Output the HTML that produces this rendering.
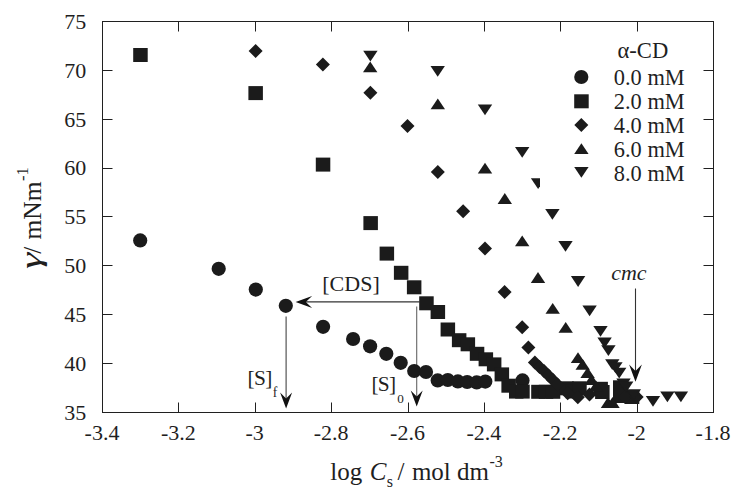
<!DOCTYPE html>
<html lang="en"><head><meta charset="utf-8"><title>Surface tension vs log Cs</title>
<style>html,body{margin:0;padding:0;background:#fff}svg{display:block}text{font-family:"Liberation Serif","Times New Roman",Times,serif;fill:#1f1f1f}</style></head><body>
<svg width="747" height="491" viewBox="0 0 747 491">
<rect width="747" height="491" fill="#fff"/>
<defs><clipPath id="lg"><rect x="0" y="0" width="540" height="491"/></clipPath></defs>
<g>
<line x1="301.6" y1="301.9" x2="419.5" y2="301.9" stroke="#333" stroke-width="1.25"/><polygon fill="#111" points="295.6,301.9 312.1,295.9 305.8,301.9 312.1,307.9"/>
<line x1="286.1" y1="316.5" x2="286.1" y2="402.6" stroke="#444" stroke-width="1.1"/><polygon fill="#111" points="286.1,408.6 280.1,392.4 286.1,398.6 292.1,392.4"/>
<line x1="416.7" y1="306.4" x2="416.7" y2="400.6" stroke="#666" stroke-width="1.1"/><polygon fill="#111" points="416.7,406.6 410.7,390.4 416.7,396.6 422.7,390.4"/>
<line x1="635.5" y1="288.5" x2="635.5" y2="375.8" stroke="#333" stroke-width="1.1"/><polygon fill="#111" points="635.5,381.8 629.1,364.5 635.5,371.1 641.9,364.5"/>
</g>
<g fill="#1b1b1b">
<circle cx="140.2" cy="240.4" r="7.1"/><circle cx="218.7" cy="268.8" r="7.1"/><circle cx="255.8" cy="289.6" r="7.1"/><circle cx="285.8" cy="305.8" r="7.1"/><circle cx="323.1" cy="326.8" r="7.1"/><circle cx="353.1" cy="339.0" r="7.1"/><circle cx="370.1" cy="346.3" r="7.1"/><circle cx="386.3" cy="353.8" r="7.1"/><circle cx="400.7" cy="362.8" r="7.1"/><circle cx="414.2" cy="371.0" r="7.1"/><circle cx="426.0" cy="372.0" r="7.1"/><circle cx="437.7" cy="380.4" r="7.1"/><circle cx="447.8" cy="380.0" r="7.1"/><circle cx="457.9" cy="381.4" r="7.1"/><circle cx="467.2" cy="382.0" r="7.1"/><circle cx="476.7" cy="382.4" r="7.1"/><circle cx="485.3" cy="381.6" r="7.1"/><circle cx="522.5" cy="380.4" r="7.1"/>
<rect x="133.2" y="48.0" width="14.5" height="14.0"/><rect x="248.4" y="86.1" width="14.5" height="14.0"/><rect x="315.8" y="157.6" width="14.5" height="14.0"/><rect x="363.4" y="216.1" width="14.5" height="14.0"/><rect x="379.6" y="246.6" width="14.5" height="14.0"/><rect x="393.9" y="265.8" width="14.5" height="14.0"/><rect x="406.9" y="280.3" width="14.5" height="14.0"/><rect x="419.2" y="296.3" width="14.5" height="14.0"/><rect x="430.6" y="305.0" width="14.5" height="14.0"/><rect x="440.6" y="322.5" width="14.5" height="14.0"/><rect x="451.9" y="333.2" width="14.5" height="14.0"/><rect x="460.6" y="337.3" width="14.5" height="14.0"/><rect x="469.8" y="346.8" width="14.5" height="14.0"/><rect x="478.6" y="352.3" width="14.5" height="14.0"/><rect x="486.9" y="357.4" width="14.5" height="14.0"/><rect x="494.6" y="367.4" width="14.5" height="14.0"/><rect x="501.4" y="378.7" width="14.5" height="14.0"/><rect x="509.0" y="384.6" width="14.5" height="14.0"/><rect x="515.2" y="384.6" width="14.5" height="14.0"/><rect x="531.2" y="384.8" width="14.5" height="14.0"/><rect x="538.8" y="384.8" width="14.5" height="14.0"/><rect x="545.8" y="384.8" width="14.5" height="14.0"/><rect x="559.2" y="381.3" width="14.5" height="14.0"/><rect x="565.8" y="384.5" width="14.5" height="14.0"/><rect x="572.2" y="381.3" width="14.5" height="14.0"/><rect x="593.4" y="381.8" width="14.5" height="14.0"/><rect x="595.1" y="385.0" width="14.5" height="14.0"/><rect x="613.0" y="380.3" width="14.5" height="14.0"/><rect x="613.0" y="389.0" width="14.5" height="14.0"/><rect x="624.8" y="390.0" width="14.5" height="14.0"/>
<polygon points="248.6,51.1 255.6,44.1 262.6,51.1 255.6,58.1"/><polygon points="315.9,64.5 322.9,57.5 329.9,64.5 322.9,71.5"/><polygon points="363.4,92.8 370.4,85.8 377.4,92.8 370.4,99.8"/><polygon points="400.5,125.9 407.5,118.9 414.5,125.9 407.5,132.9"/><polygon points="430.8,172.1 437.8,165.1 444.8,172.1 437.8,179.1"/><polygon points="456.1,211.3 463.1,204.3 470.1,211.3 463.1,218.3"/><polygon points="478.0,248.4 485.0,241.4 492.0,248.4 485.0,255.4"/><polygon points="497.6,292.1 504.6,285.1 511.6,292.1 504.6,299.1"/><polygon points="515.2,327.2 522.2,320.2 529.2,327.2 522.2,334.2"/><polygon points="521.4,347.6 528.4,340.6 535.4,347.6 528.4,354.6"/><polygon points="527.9,362.5 534.9,355.5 541.9,362.5 534.9,369.5"/><polygon points="532.5,367.0 539.5,360.0 546.5,367.0 539.5,374.0"/><polygon points="537.0,371.0 544.0,364.0 551.0,371.0 544.0,378.0"/><polygon points="541.5,375.5 548.5,368.5 555.5,375.5 548.5,382.5"/><polygon points="546.0,380.0 553.0,373.0 560.0,380.0 553.0,387.0"/><polygon points="550.5,384.5 557.5,377.5 564.5,384.5 557.5,391.5"/><polygon points="560.7,393.3 567.7,386.3 574.7,393.3 567.7,400.3"/><polygon points="570.8,397.3 577.8,390.3 584.8,397.3 577.8,404.3"/><polygon points="582.5,394.6 589.5,387.6 596.5,394.6 589.5,401.6"/><polygon points="618.0,397.0 625.0,390.0 632.0,397.0 625.0,404.0"/><polygon points="629.7,397.0 636.7,390.0 643.7,397.0 636.7,404.0"/>
<polygon points="363.0,72.2 377.4,72.2 370.2,61.4"/><polygon points="430.6,109.3 445.0,109.3 437.8,98.5"/><polygon points="477.8,173.6 492.2,173.6 485.0,162.8"/><polygon points="497.6,203.9 512.0,203.9 504.8,193.1"/><polygon points="515.0,246.2 529.4,246.2 522.2,235.4"/><polygon points="530.8,282.9 545.2,282.9 538.0,272.1"/><polygon points="545.5,313.8 559.9,313.8 552.7,303.0"/><polygon points="558.5,332.7 572.9,332.7 565.7,321.9"/><polygon points="570.8,363.1 585.2,363.1 578.0,352.3"/><polygon points="575.5,369.7 589.9,369.7 582.7,358.9"/><polygon points="580.4,378.0 594.8,378.0 587.6,367.2"/><polygon points="584.3,385.0 598.7,385.0 591.5,374.2"/><polygon points="588.8,391.4 603.2,391.4 596.0,380.6"/><polygon points="600.8,407.9 615.2,407.9 608.0,397.1"/><polygon points="605.3,407.9 619.7,407.9 612.5,397.1"/>
<polygon points="363.2,50.7 377.6,50.7 370.4,61.5"/><polygon points="430.5,66.0 444.9,66.0 437.7,76.8"/><polygon points="477.8,104.5 492.2,104.5 485.0,115.3"/><polygon points="515.0,146.9 529.4,146.9 522.2,157.7"/><polygon points="545.2,208.9 559.6,208.9 552.4,219.7"/><polygon points="558.3,241.0 572.7,241.0 565.5,251.8"/><polygon points="570.9,276.1 585.3,276.1 578.1,286.9"/><polygon points="582.4,305.4 596.8,305.4 589.6,316.2"/><polygon points="593.3,325.9 607.7,325.9 600.5,336.7"/><polygon points="597.4,337.4 611.8,337.4 604.6,348.2"/><polygon points="601.2,345.3 615.6,345.3 608.4,356.1"/><polygon points="605.1,359.2 619.5,359.2 612.3,370.0"/><polygon points="608.2,362.3 622.6,362.3 615.4,373.1"/><polygon points="612.0,367.8 626.4,367.8 619.2,378.6"/><polygon points="616.3,378.6 630.7,378.6 623.5,389.4"/><polygon points="619.0,381.6 633.4,381.6 626.2,392.4"/><polygon points="626.6,389.3 641.0,389.3 633.8,400.1"/><polygon points="645.8,395.9 660.2,395.9 653.0,406.7"/><polygon points="660.2,391.5 674.6,391.5 667.4,402.3"/><polygon points="673.7,391.5 688.1,391.5 680.9,402.3"/>
<g clip-path="url(#lg)"><polygon points="530.9,178.3 545.3,178.3 538.1,189.1"/></g>
</g>
<g stroke="#202020" stroke-width="1.0" fill="none">
<rect x="102.5" y="21.5" width="611.0" height="391.0"/>
<path d="M178.5 412.5v-10M178.5 21.5v10M255.5 412.5v-10M255.5 21.5v10M331.5 412.5v-10M331.5 21.5v10M408.5 412.5v-10M408.5 21.5v10M484.5 412.5v-10M484.5 21.5v10M560.5 412.5v-10M560.5 21.5v10M637.5 412.5v-10M637.5 21.5v10M102.5 363.5h10M713.5 363.5h-10M102.5 314.5h10M713.5 314.5h-10M102.5 265.5h10M713.5 265.5h-10M102.5 216.5h10M713.5 216.5h-10M102.5 168.5h10M713.5 168.5h-10M102.5 119.5h10M713.5 119.5h-10M102.5 70.5h10M713.5 70.5h-10"/>
</g>
<g font-size="22" text-anchor="middle">
<text x="102.0" y="439.8">-3.4</text>
<text x="178.4" y="439.8">-3.2</text>
<text x="254.7" y="439.8">-3</text>
<text x="331.1" y="439.8">-2.8</text>
<text x="407.5" y="439.8">-2.6</text>
<text x="483.9" y="439.8">-2.4</text>
<text x="560.2" y="439.8">-2.2</text>
<text x="636.6" y="439.8">-2</text>
<text x="713.0" y="439.8">-1.8</text>
</g>
<g font-size="22" text-anchor="end">
<text x="86.3" y="419.7">35</text>
<text x="86.3" y="370.8">40</text>
<text x="86.3" y="321.9">45</text>
<text x="86.3" y="273.1">50</text>
<text x="86.3" y="224.2">55</text>
<text x="86.3" y="175.3">60</text>
<text x="86.3" y="126.5">65</text>
<text x="86.3" y="77.6">70</text>
<text x="86.3" y="28.7">75</text>
</g>
<text x="330.2" y="479.6" font-size="25">log<tspan font-style="italic" dx="7.6">C</tspan><tspan font-size="16" dx="0.3" dy="7.4">s</tspan><tspan dy="-7.4" dx="4.4">/</tspan><tspan dx="7.6">mol dm</tspan><tspan font-size="16" dy="-12.4" dx="0.4">-3</tspan></text>
<text transform="translate(41 268.2) rotate(-90) scale(1.38 1)" font-size="30" font-style="italic" x="-0.6" y="0">γ</text>
<text transform="translate(41 268) rotate(-90)" font-size="25.5"><tspan x="14.2">/</tspan><tspan x="28.4">mNm</tspan><tspan font-size="16.5" dy="-13" dx="0.6">-1</tspan></text>
<text x="617.5" y="57.8" font-size="22.6">α-CD</text>
<g fill="#1b1b1b"><circle cx="581.3" cy="77.0" r="7.1"/><rect x="574.2" y="94.3" width="14.5" height="14.0"/><polygon points="574.3,125.0 581.3,118.0 588.3,125.0 581.3,132.0"/><polygon points="574.2,154.1 588.6,154.1 581.4,143.3"/><polygon points="574.2,167.0 588.6,167.0 581.4,177.8"/></g>
<g font-size="22.4">
<text x="613.8" y="84.6">0.0 mM</text>
<text x="613.8" y="108.6">2.0 mM</text>
<text x="613.8" y="132.6">4.0 mM</text>
<text x="613.8" y="156.6">6.0 mM</text>
<text x="613.8" y="180.6">8.0 mM</text>
</g>
<text x="322.3" y="290.7" font-size="22">[CDS]</text>
<text x="247.6" y="384.6" font-size="21.4" letter-spacing="-0.7">[S]<tspan font-size="13.6" dy="12.0" dx="1.2">f</tspan></text>
<text x="371.4" y="390.8" font-size="21.4" letter-spacing="-0.7">[S]<tspan font-size="13.2" dy="12.3" dx="1.8">0</tspan></text>
<text x="611.2" y="279.8" font-size="22" font-style="italic">cmc</text>
</svg></body></html>
